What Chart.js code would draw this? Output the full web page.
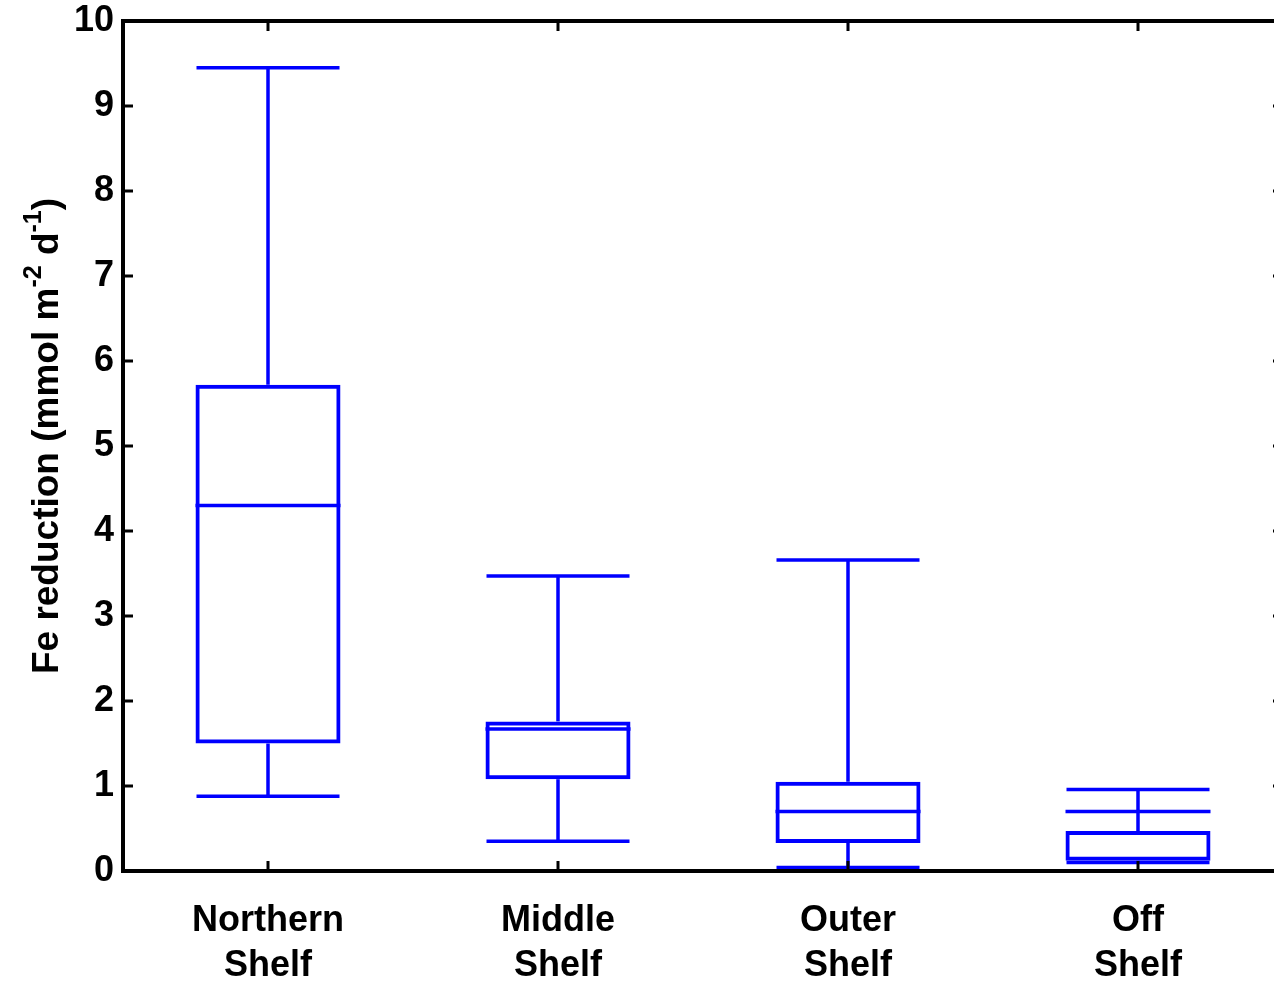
<!DOCTYPE html>
<html>
<head>
<meta charset="utf-8">
<script src="https://cdn.jsdelivr.net/npm/chart.js@4/dist/chart.umd.min.js"></script>
<style>
  html, body { margin: 0; padding: 0; background: #ffffff; overflow: hidden; }
  #wrap { width: 1274px; height: 981px; overflow: hidden; }
  canvas { display: block; }
</style>
</head>
<body>
<div id="wrap"><canvas id="c" width="1290" height="981"></canvas></div>
<script>
// ---- data ----
const categories = [["Northern", "Shelf"], ["Middle", "Shelf"], ["Outer", "Shelf"], ["Off", "Shelf"]];
const xPositions = [1, 2, 3, 4];
const whiskerLow  = [0.88, 0.35, 0.04, 0.10];
const q1          = [1.50, 1.08, 0.33, 0.12];
const median      = [4.30, 1.67, 0.70, 0.70];
const q3          = [5.72, 1.76, 1.05, 0.47];
const whiskerHigh = [9.45, 3.47, 3.66, 0.96];
const yTickValues = [0, 1, 2, 3, 4, 5, 6, 7, 8, 9, 10];
const yTitleParts = [
  { t: "Fe reduction (mmol m", sup: false },
  { t: "-2", sup: true },
  { t: " d", sup: false },
  { t: "-1", sup: true },
  { t: ")", sup: false }
];

const boxColor = "#0000ff";
const FONT = "'Liberation Sans', Arial, Helvetica, sans-serif";

const boxExtras = {
  id: "boxExtras",
  afterDatasetsDraw(chart) {
    const { ctx } = chart;
    const x = chart.scales.x, y = chart.scales.y;
    const meta = chart.getDatasetMeta(0);
    ctx.save();
    ctx.strokeStyle = boxColor;
    ctx.lineWidth = 3.5;
    ctx.lineCap = "butt";
    const line = (x1, y1, x2, y2) => { ctx.beginPath(); ctx.moveTo(x1, y1); ctx.lineTo(x2, y2); ctx.stroke(); };
    meta.data.forEach((bar, i) => {
      const cx = x.getPixelForValue(xPositions[i]);
      const hw = bar.width / 2;
      const pHi = y.getPixelForValue(whiskerHigh[i]);
      const pLo = y.getPixelForValue(whiskerLow[i]);
      const pQ1 = y.getPixelForValue(q1[i]);
      const pQ3 = y.getPixelForValue(q3[i]);
      const pMed = y.getPixelForValue(median[i]);
      line(cx, pQ3, cx, pHi);
      line(cx, pQ1, cx, pLo);
      line(cx - hw + 1, pHi, cx + hw - 1, pHi);
      line(cx - hw + 1, pLo, cx + hw - 1, pLo);
      line(cx - hw, pMed, cx + hw, pMed);
    });
    ctx.restore();
  },
  afterDraw(chart) {
    const { ctx, chartArea: a } = chart;
    const x = chart.scales.x, y = chart.scales.y;
    ctx.save();
    ctx.strokeStyle = "#000000";
    ctx.lineWidth = 4;
    ctx.strokeRect(a.left, a.top, a.right - a.left, a.bottom - a.top);
    ctx.lineWidth = 3;
    const tl = 10;
    const line = (x1, y1, x2, y2) => { ctx.beginPath(); ctx.moveTo(x1, y1); ctx.lineTo(x2, y2); ctx.stroke(); };
    yTickValues.forEach(v => {
      const py = y.getPixelForValue(v);
      line(a.left, py, a.left + tl, py);
      line(a.right, py, a.right - tl, py);
    });
    xPositions.forEach(v => {
      const px = x.getPixelForValue(v);
      line(px, a.bottom, px, a.bottom - tl);
      line(px, a.top, px, a.top + tl);
    });
    // y-axis title with superscripts
    const mainFont = "bold 37px " + FONT;
    const supFont = "bold 25px " + FONT;
    let total = 0;
    yTitleParts.forEach(p => { ctx.font = p.sup ? supFont : mainFont; total += ctx.measureText(p.t).width; });
    const cy = (a.top + a.bottom) / 2 - 10;
    ctx.translate(58, cy);
    ctx.rotate(-Math.PI / 2);
    ctx.fillStyle = "#000000";
    ctx.textBaseline = "alphabetic";
    ctx.textAlign = "left";
    let pos = -total / 2;
    yTitleParts.forEach(p => {
      ctx.font = p.sup ? supFont : mainFont;
      ctx.fillText(p.t, pos, p.sup ? -17 : 0);
      pos += ctx.measureText(p.t).width;
    });
    ctx.restore();
  }
};

new Chart(document.getElementById("c"), {
  type: "bar",
  data: {
    datasets: [{
      data: xPositions.map((v, i) => ({ x: v, y: [q1[i], q3[i]] })),
      backgroundColor: "rgba(0,0,0,0)",
      borderColor: boxColor,
      borderWidth: 4,
      borderSkipped: false,
      barPercentage: 0.5,
      categoryPercentage: 1.0
    }]
  },
  options: {
    responsive: false,
    animation: false,
    layout: { padding: { top: 21, right: 7, left: 0, bottom: 0 } },
    plugins: { legend: { display: false }, tooltip: { enabled: false } },
    scales: {
      x: {
        type: "linear",
        min: 0.5, max: 4.5,
        offset: false,
        grid: { display: false, drawTicks: false },
        border: { display: false },
        afterBuildTicks: (s) => { s.ticks = xPositions.map(v => ({ value: v })); },
        afterFit: (s) => { s.height = 110; s.paddingLeft = 0; s.paddingRight = 0; },
        ticks: {
          autoSkip: false, maxRotation: 0, minRotation: 0, padding: 28,
          color: "#000000",
          font: { family: FONT, size: 36, weight: "bold", lineHeight: 1.25 },
          callback: (v) => { const i = xPositions.indexOf(v); return i >= 0 ? categories[i] : ""; }
        }
      },
      y: {
        min: 0, max: 10,
        grid: { display: false, drawTicks: false },
        border: { display: false },
        afterBuildTicks: (s) => { s.ticks = yTickValues.map(v => ({ value: v })); },
        afterFit: (s) => { s.width = 123; s.paddingTop = 0; s.paddingBottom = 0; },
        ticks: {
          padding: 9,
          color: "#000000",
          font: { family: FONT, size: 36, weight: "bold" },
          callback: (v) => String(v)
        }
      }
    }
  },
  plugins: [boxExtras]
});
</script>
</body>
</html>
